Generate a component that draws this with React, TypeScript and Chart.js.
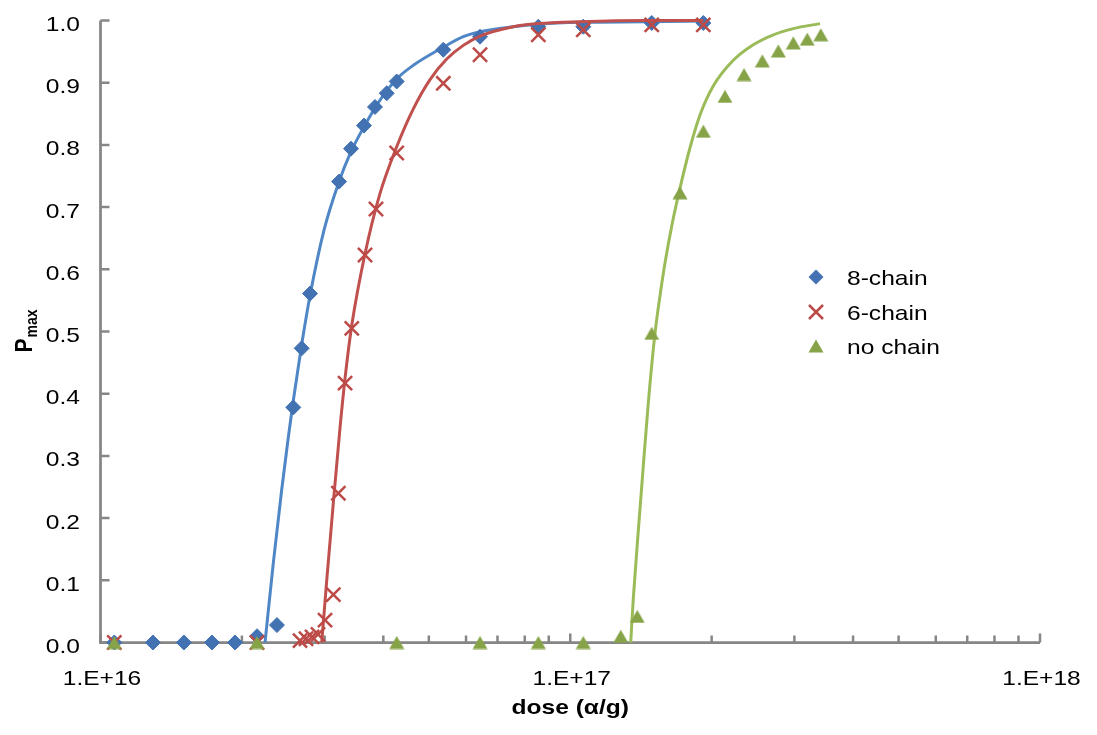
import { useEffect, useRef } from 'react';
import { Chart, registerables } from 'chart.js';

Chart.register(...registerables);

// ---- measured points ----
const chain8Dose = [1.07e16, 1.293e16, 1.505e16, 1.727e16, 1.934e16, 2.154e16, 2.375e16, 2.573e16, 2.681e16, 2.793e16, 3.22e16, 3.414e16, 3.638e16, 3.84e16, 4.067e16, 4.271e16, 5.367e16, 6.426e16, 8.551e16, 1.066e17, 1.491e17, 1.92e17];
const chain8P = [0, 0, 0, 0, 0, 0.01, 0.028, 0.378, 0.473, 0.561, 0.741, 0.794, 0.831, 0.861, 0.883, 0.902, 0.953, 0.974, 0.99, 0.99, 0.996, 0.996];

const chain6Dose = [1.07e16, 2.154e16, 2.659e16, 2.738e16, 2.82e16, 2.904e16, 3.006e16, 3.131e16, 3.209e16, 3.316e16, 3.427e16, 3.657e16, 3.859e16, 4.271e16, 5.367e16, 6.426e16, 8.551e16, 1.066e17, 1.491e17, 1.92e17];
const chain6P = [0, 0, 0.003, 0.006, 0.009, 0.013, 0.036, 0.077, 0.24, 0.417, 0.505, 0.623, 0.697, 0.787, 0.899, 0.945, 0.977, 0.985, 0.993, 0.993];

const noChainDose = [1.07e16, 2.154e16, 4.271e16, 6.426e16, 8.551e16, 1.066e17, 1.281e17, 1.389e17, 1.491e17, 1.712e17, 1.92e17, 2.135e17, 2.344e17, 2.564e17, 2.773e17, 2.984e17, 3.196e17, 3.414e17];
const noChainP = [0, 0, 0, 0, 0, 0, 0.01, 0.042, 0.497, 0.723, 0.822, 0.878, 0.913, 0.935, 0.951, 0.964, 0.97, 0.977];

// ---- fitted curves ----
const fit8Dose = [2.24e16, 2.333e16, 2.431e16, 2.511e16, 2.573e16, 2.681e16, 2.793e16, 2.991e16, 3.22e16, 3.414e16, 3.638e16, 3.936e16, 4.271e16, 4.634e16, 5.367e16, 5.92e16, 6.426e16, 7.566e16, 8.551e16, 1.049e17, 1.454e17, 1.92e17];
const fit8P = [0, 0.128, 0.246, 0.33, 0.389, 0.479, 0.558, 0.663, 0.741, 0.789, 0.829, 0.872, 0.906, 0.928, 0.957, 0.974, 0.982, 0.99, 0.994, 0.997, 0.998, 0.999];

const fit6Dose = [2.958e16, 3.031e16, 3.131e16, 3.235e16, 3.316e16, 3.427e16, 3.657e16, 3.936e16, 4.271e16, 4.634e16, 5.029e16, 5.458e16, 5.92e16, 6.426e16, 7.566e16, 8.551e16, 1.049e17, 1.454e17, 1.92e17];
const fit6P = [0, 0.1, 0.225, 0.345, 0.425, 0.51, 0.625, 0.722, 0.797, 0.858, 0.905, 0.938, 0.96, 0.975, 0.99, 0.995, 0.998, 1.0, 1.0];

const fitNoDose = [1.345e17, 1.362e17, 1.396e17, 1.431e17, 1.466e17, 1.515e17, 1.553e17, 1.591e17, 1.647e17, 1.712e17, 1.798e17, 1.889e17, 2.017e17, 2.224e17, 2.453e17, 2.706e17, 2.984e17, 3.402e17];
const fitNoP = [0, 0.07, 0.18, 0.285, 0.385, 0.497, 0.558, 0.61, 0.672, 0.73, 0.795, 0.848, 0.895, 0.936, 0.961, 0.977, 0.987, 0.995];

// ---- axes & labels ----
const yTickValues = [0, 0.1, 0.2, 0.3, 0.4, 0.5, 0.6, 0.7, 0.8, 0.9, 1.0];
const yTickLabels = ['0.0', '0.1', '0.2', '0.3', '0.4', '0.5', '0.6', '0.7', '0.8', '0.9', '1.0'];
const xTickValues = [1e16, 1e17, 1e18];
const xTickLabels = ['1.E+16', '1.E+17', '1.E+18'];
const seriesNames = ['8-chain', '6-chain', 'no chain'];
const xTitle = 'dose (\u03b1/g)';

const BLUE_MARK = '#4372B2';
const BLUE_LINE = '#4F86C6';
const RED_MARK = '#BC4A46';
const RED_LINE = '#C0504D';
const GREEN_MARK = '#86A447';
const GREEN_LINE = '#9BBB59';
const AXIS = '#868686';
const FONT = "'Liberation Sans', Arial, sans-serif";
const SX = 1.17; // horizontal text stretch

const pts = (xs: number[], ys: number[]) => xs.map((x, i) => ({ x, y: ys[i] }));

function makeTriangle(color: string) {
  const c = document.createElement('canvas');
  c.width = 16;
  c.height = 14;
  const g = c.getContext('2d')!;
  g.fillStyle = color;
  g.beginPath();
  g.moveTo(0.5, 13.5);
  g.lineTo(8, 0.5);
  g.lineTo(15.5, 13.5);
  g.closePath();
  g.fill();
  return c;
}

function stretchText(ctx: CanvasRenderingContext2D, text: string, x: number, y: number, align: CanvasTextAlign) {
  ctx.save();
  ctx.translate(x, y);
  ctx.scale(SX, 1);
  ctx.textAlign = align;
  ctx.textBaseline = 'alphabetic';
  ctx.fillText(text, 0, 0);
  ctx.restore();
}

export default function App() {
  const ref = useRef<HTMLCanvasElement | null>(null);

  useEffect(() => {
    if (!ref.current) return;
    const tri = makeTriangle(GREEN_MARK);

    const framePlugin = {
      id: 'frame',
      beforeDatasetsDraw(chart: any) {
        const { ctx, chartArea: a, scales } = chart;
        const x = scales.x;
        const y = scales.y;
        ctx.save();
        ctx.strokeStyle = AXIS;
        ctx.lineWidth = 2.75;
        ctx.beginPath();
        ctx.moveTo(a.left, a.top);
        ctx.lineTo(a.left, a.bottom);
        ctx.lineTo(a.right, a.bottom);
        ctx.stroke();
        ctx.lineWidth = 2.5;
        ctx.beginPath();
        for (const v of yTickValues) {
          const py = y.getPixelForValue(v);
          ctx.moveTo(a.left, py);
          ctx.lineTo(a.left + 9, py);
        }
        for (let d = 16; d < 18; d++) {
          for (let m = 1; m <= 9; m++) {
            const px = x.getPixelForValue(m * Math.pow(10, d));
            const len = m === 1 ? 9 : 7;
            ctx.moveTo(px, a.bottom);
            ctx.lineTo(px, a.bottom - len);
          }
        }
        const pEnd = x.getPixelForValue(1e18);
        ctx.moveTo(pEnd, a.bottom);
        ctx.lineTo(pEnd, a.bottom - 9);
        ctx.stroke();
        ctx.restore();
      },
      afterDraw(chart: any) {
        const { ctx, chartArea: a, scales } = chart;
        const x = scales.x;
        const y = scales.y;
        ctx.save();
        ctx.fillStyle = '#000';
        ctx.font = `21px ${FONT}`;
        yTickValues.forEach((v, i) => {
          stretchText(ctx, yTickLabels[i], 80, y.getPixelForValue(v) + 10.5, 'right');
        });
        xTickValues.forEach((v, i) => {
          stretchText(ctx, xTickLabels[i], x.getPixelForValue(v) + 1.5, 685, 'center');
        });

        // x title
        ctx.font = `bold 21px ${FONT}`;
        stretchText(ctx, xTitle, (a.left + a.right) / 2, 714, 'center');

        // y title P_max
        ctx.save();
        ctx.translate(32, (a.top + a.bottom) / 2);
        ctx.scale(SX, 1);
        ctx.rotate(-Math.PI / 2);
        ctx.textAlign = 'left';
        ctx.textBaseline = 'alphabetic';
        ctx.font = `bold 21px ${FONT}`;
        ctx.fillText('P', -21, 0);
        ctx.font = `bold 14px ${FONT}`;
        ctx.fillText('max', -6, 4.3);
        ctx.restore();

        // legend
        const lx = 816;
        const rows = [277, 312, 346];
        ctx.font = `21px ${FONT}`;
        rows.forEach((ry, i) => {
          if (i === 0) {
            ctx.fillStyle = BLUE_MARK;
            ctx.beginPath();
            ctx.moveTo(lx, ry - 7.5);
            ctx.lineTo(lx + 7.5, ry);
            ctx.lineTo(lx, ry + 7.5);
            ctx.lineTo(lx - 7.5, ry);
            ctx.closePath();
            ctx.fill();
          } else if (i === 1) {
            ctx.strokeStyle = RED_MARK;
            ctx.lineWidth = 2.5;
            ctx.beginPath();
            ctx.moveTo(lx - 7, ry - 7);
            ctx.lineTo(lx + 7, ry + 7);
            ctx.moveTo(lx + 7, ry - 7);
            ctx.lineTo(lx - 7, ry + 7);
            ctx.stroke();
          } else {
            ctx.drawImage(tri, lx - tri.width / 2, ry - tri.height / 2);
          }
          ctx.fillStyle = '#000';
          stretchText(ctx, seriesNames[i], 847, ry + 8, 'left');
        });
        ctx.restore();
      },
    };

    const lineDs = (label: string, xs: number[], ys: number[], color: string, order: number) => ({
      label,
      data: pts(xs, ys),
      showLine: true,
      borderColor: color,
      borderWidth: 3,
      pointRadius: 0,
      cubicInterpolationMode: 'monotone' as const,
      fill: false,
      clip: false as const,
      order,
    });

    const chart = new Chart(ref.current, {
      type: 'scatter',
      data: {
        datasets: [
          lineDs('8-chain fit', fit8Dose, fit8P, BLUE_LINE, 6),
          {
            label: seriesNames[0],
            data: pts(chain8Dose, chain8P),
            pointStyle: 'rectRot',
            pointRadius: 7.5,
            backgroundColor: BLUE_MARK,
            borderColor: BLUE_MARK,
            borderWidth: 1,
            clip: false,
            order: 5,
          },
          lineDs('6-chain fit', fit6Dose, fit6P, RED_LINE, 4),
          {
            label: seriesNames[1],
            data: pts(chain6Dose, chain6P),
            pointStyle: 'crossRot',
            pointRadius: 10,
            borderColor: RED_MARK,
            backgroundColor: RED_MARK,
            borderWidth: 2.5,
            clip: false,
            order: 3,
          },
          lineDs('no chain fit', fitNoDose, fitNoP, GREEN_LINE, 2),
          {
            label: seriesNames[2],
            data: pts(noChainDose, noChainP),
            pointStyle: tri,
            pointRadius: 8,
            backgroundColor: GREEN_MARK,
            borderColor: GREEN_MARK,
            clip: false,
            order: 1,
          },
        ] as any,
      },
      options: {
        responsive: false,
        animation: false,
        events: [],
        layout: { padding: { top: 20.5, right: 57, left: 0, bottom: 0 } },
        plugins: { legend: { display: false }, tooltip: { enabled: false } },
        scales: {
          x: {
            type: 'logarithmic',
            min: 1e16,
            max: 1e18,
            grid: { display: false, drawTicks: false },
            border: { display: false },
            ticks: { display: false },
            afterFit: (s: any) => {
              s.height = 735 - 642.5;
            },
          },
          y: {
            type: 'linear',
            min: 0,
            max: 1,
            grid: { display: false, drawTicks: false },
            border: { display: false },
            ticks: { display: false },
            afterFit: (s: any) => {
              s.width = 100.5;
            },
          },
        },
      },
      plugins: [framePlugin],
    });

    return () => chart.destroy();
  }, []);

  return (
    <div style={{ position: 'fixed', left: 0, top: 0, width: 1097, height: 735, background: '#fff' }}>
      <canvas ref={ref} width={1097} height={735} style={{ display: 'block' }} />
    </div>
  );
}
